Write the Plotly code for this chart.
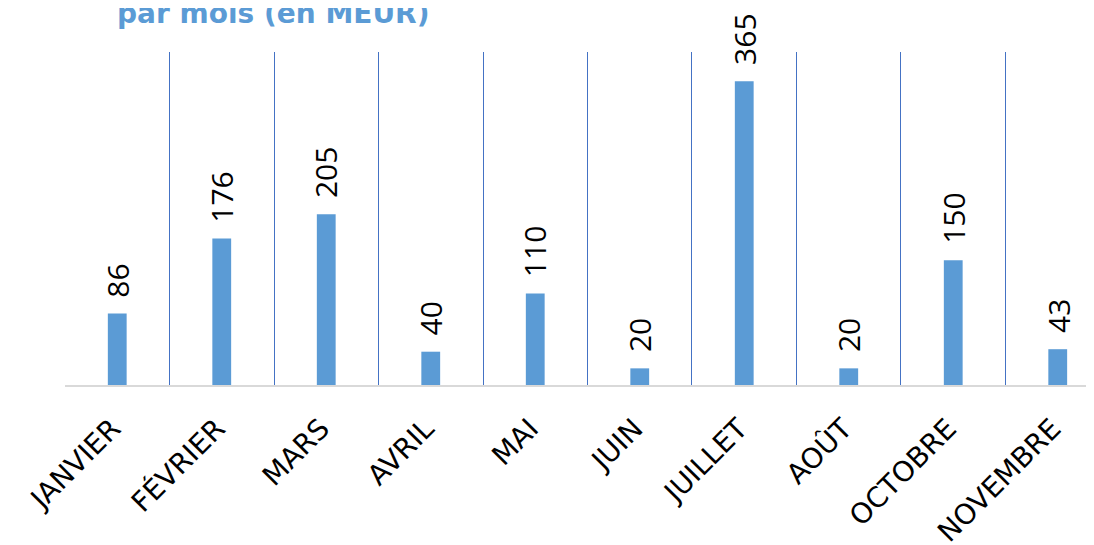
import plotly.graph_objects as go

months = ["JANVIER", "FÉVRIER", "MARS", "AVRIL", "MAI", "JUIN", "JUILLET", "AOÛT", "OCTOBRE", "NOVEMBRE"]
values = [86, 176, 205, 40, 110, 20, 365, 20, 150, 43]
title_text = "par mois (en MEUR)"

fig = go.Figure()
fig.add_trace(go.Bar(
    x=months, y=values,
    marker=dict(color="#5B9BD5", line=dict(width=0)),
    width=0.18,
    hoverinfo="x+y",
))

for m, v in zip(months, values):
    fig.add_annotation(
        x=m, y=v, xref="x", yref="y", text=str(v), textangle=-90,
        xanchor="center", yanchor="bottom", yshift=14, showarrow=False,
        font=dict(family="Open Sans", size=30, color="#000000"),
    )

fig.add_annotation(
    text=title_text, xref="paper", yref="paper", x=0.049, y=1.115,
    xanchor="left", yanchor="middle", showarrow=False,
    font=dict(family="DejaVu Sans", size=28, color="#5B9BD5", weight="bold"),
)

fig.update_layout(
    width=1086, height=537,
    margin=dict(l=57, r=0, t=44, b=160, autoexpand=False),
    paper_bgcolor="white", plot_bgcolor="white",
    showlegend=False,
    xaxis=dict(
        type="category", range=[-0.5, 9.347], automargin=False,
        tickson="boundaries", showgrid=True, gridcolor="#4472C4", gridwidth=1,
        ticks="", tickangle=-45,
        ticklabelstandoff=14, ticklabelshift=-5,
        tickfont=dict(family="DejaVu Sans", size=28, color="#000000"),
        showline=True, linecolor="#D9D9D9", linewidth=2,
        zeroline=False,
    ),
    yaxis=dict(range=[0, 400], visible=False, showgrid=False, zeroline=False, automargin=False),
)

fig.write_html("out.html")
